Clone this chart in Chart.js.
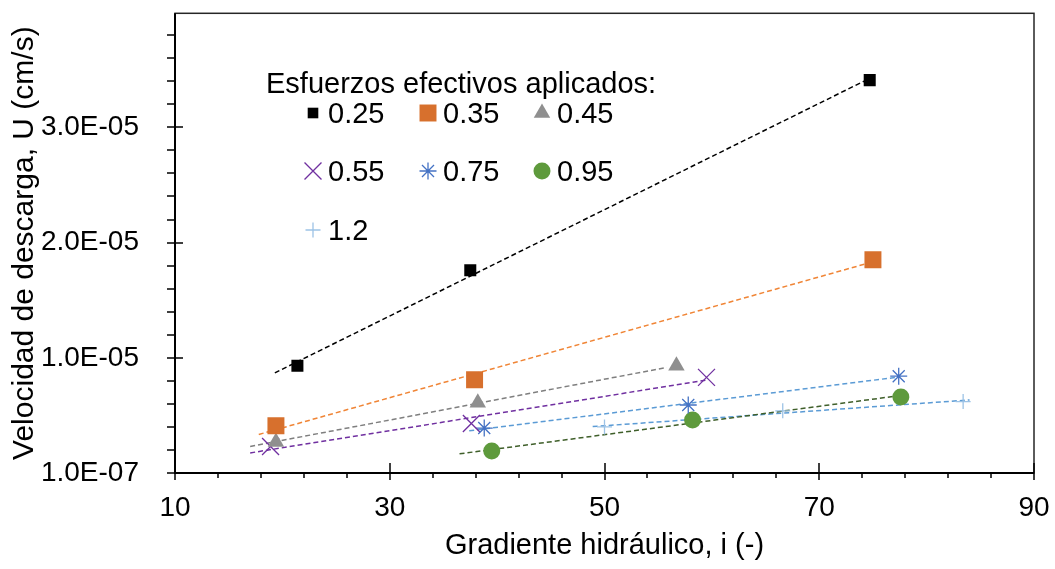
<!DOCTYPE html>
<html lang="es">
<head>
<meta charset="UTF-8">
<title>Velocidad de descarga vs gradiente hidráulico</title>
<script src="https://cdn.jsdelivr.net/npm/chart.js"></script>
<style>
  body { margin:0; background:#fff; }
  #wrap { width:1055px; height:569px; }
</style>
</head>
<body>
<div id="wrap"><canvas id="grafico" width="1055" height="569"></canvas></div>
<script>
  // esfuerzos efectivos aplicados (leyenda)
  const esfuerzos = ['0.25', '0.35', '0.45', '0.55', '0.75', '0.95', '1.2'];

  // gradiente hidráulico i (-) y velocidad de descarga U (cm/s)
  const i025 = [21.4, 37.5, 74.7], u025 = [9.4e-6, 1.77e-5, 3.42e-5];
  const i035 = [19.4, 37.9, 75.0], u035 = [4.2e-6, 8.2e-6, 1.86e-5];
  const i045 = [19.4, 38.2, 56.7], u045 = [2.8e-6, 6.2e-6, 9.4e-6];
  const i055 = [18.9, 37.6, 59.5], u055 = [2.4e-6, 4.4e-6, 8.4e-6];
  const i075 = [38.8, 57.8, 77.4], u075 = [4.0e-6, 6.0e-6, 8.5e-6];
  const i095 = [39.5, 58.2, 77.6], u095 = [2.0e-6, 4.7e-6, 6.7e-6];
  const i120 = [50.0, 66.6, 83.4], u120 = [4.1e-6, 5.5e-6, 6.3e-6];

  // tramo de cada línea de tendencia (en i)
  const tendDesde = [19.3, 17.8, 17.0, 17.0, 37.4, 36.5, 48.9];
  const tendHasta = [74.7, 75.0, 55.8, 59.4, 77.4, 77.2, 84.0];

  // marcas de los ejes
  const xTicks = [10, 30, 50, 70, 90];
  const yTicks = [1.0e-7, 1.01e-5, 2.01e-5, 3.01e-5];

  const gradientes = [i025, i035, i045, i055, i075, i095, i120];
  const velocidades = [u025, u035, u045, u055, u075, u095, u120];

  // estilos (marcador, color, color de tendencia)
  const estilos = [
    { p:'rect',     r:8.5, fill:'#000000', line:'#000000', bw:0 },
    { p:'rect',     r:12,  fill:'#D7702D', line:'#F08536', bw:0 },
    { p:'triangle', r:9.5, fill:'#8F8F8F', line:'#7F7F7F', bw:0 },
    { p:'crossRot', r:12,  fill:'#7030A0', line:'#7030A0', bw:1.3 },
    { p:'star',     r:8.5, fill:'#4472C4', line:'#5B9BD5', bw:1.3 },
    { p:'circle',   r:8.5, fill:'#5E9A3C', line:'#3F5F2A', bw:0 },
    { p:'cross',    r:7.5, fill:'#9DC3E6', line:'#5B9BD5', bw:1.3 }
  ];

  function ajuste(xs, ys, x0, x1) {
    const n = xs.length;
    const mx = xs.reduce((a, b) => a + b, 0) / n;
    const my = ys.reduce((a, b) => a + b, 0) / n;
    let sxy = 0, sxx = 0;
    for (let k = 0; k < n; k++) { sxy += (xs[k]-mx)*(ys[k]-my); sxx += (xs[k]-mx)*(xs[k]-mx); }
    const m = sxy / sxx;
    return [{ x:x0, y:my + m*(x0-mx) }, { x:x1, y:my + m*(x1-mx) }];
  }

  function fmtE(v) {
    const [m, e] = v.toExponential(1).split('e');
    const n = parseInt(e, 10);
    return m + 'E' + (n < 0 ? '-' : '+') + String(Math.abs(n)).padStart(2, '0');
  }

  const datasets = [];
  esfuerzos.forEach((lab, s) => {
    const st = estilos[s];
    datasets.push({
      label: lab + ' tendencia', type: 'scatter', showLine: true,
      data: ajuste(gradientes[s], velocidades[s], tendDesde[s], tendHasta[s]),
      borderColor: st.line, borderWidth: 1.5, borderDash: [5, 3], pointRadius: 0, order: 2
    });
  });
  esfuerzos.forEach((lab, s) => {
    const st = estilos[s];
    datasets.push({
      label: lab, type: 'scatter',
      data: gradientes[s].map((x, k) => ({ x, y: velocidades[s][k] })),
      pointStyle: st.p, pointRadius: st.r, pointHoverRadius: st.r,
      backgroundColor: st.fill, borderColor: st.fill, pointBorderWidth: st.bw, order: 1
    });
  });

  const FONT = "'Liberation Sans', Arial, sans-serif";

  // ejes: marco, marcas mayores y menores
  const marcas = {
    id: 'marcas',
    afterDraw(chart) {
      const { ctx, chartArea: a, scales: { x, y } } = chart;
      ctx.save();
      ctx.strokeStyle = '#262626';
      ctx.lineWidth = 1.5;
      ctx.strokeRect(a.left, a.top, a.right - a.left, a.bottom - a.top);
      ctx.strokeStyle = '#000';
      ctx.lineWidth = 2;
      ctx.beginPath();
      ctx.moveTo(a.left, a.top); ctx.lineTo(a.left, a.bottom); ctx.lineTo(a.right, a.bottom);
      ctx.stroke();
      ctx.lineWidth = 1.5;
      ctx.beginPath();
      for (let v = 10; v <= 90.001; v += 4) {
        const px = Math.round(x.getPixelForValue(v));
        const mayor = xTicks.includes(Math.round(v));
        ctx.moveTo(px, a.bottom - (mayor ? 10 : 0));
        ctx.lineTo(px, a.bottom + (mayor ? 7 : 5));
      }
      for (let v = 1e-7; v <= 4.0e-5; v += 2e-6) {
        const py = Math.round(y.getPixelForValue(v));
        const mayor = yTicks.some(t => Math.abs(t - v) < 1e-9);
        ctx.moveTo(a.left - 8, py);
        ctx.lineTo(a.left + (mayor ? 8 : 0), py);
      }
      ctx.stroke();
      ctx.restore();
    }
  };

  // leyenda con título, en tres columnas
  const leyenda = {
    id: 'leyenda',
    afterDraw(chart) {
      const ctx = chart.ctx;
      const colX = [313, 428, 542];
      const filaY = [123, 181, 240];
      ctx.save();
      ctx.fillStyle = '#000';
      ctx.font = '29px ' + FONT;
      ctx.textBaseline = 'alphabetic';
      ctx.fillText('Esfuerzos efectivos aplicados:', 266, 93);
      esfuerzos.forEach((lab, s) => {
        const st = estilos[s];
        const cx = colX[s % 3], by = filaY[Math.floor(s / 3)];
        ctx.fillStyle = st.fill;
        ctx.strokeStyle = st.fill;
        ctx.lineWidth = st.bw;
        Chart.helpers.drawPoint(ctx, { pointStyle: st.p, radius: st.p === 'rect' && s === 0 ? 7.5 : st.r, rotation: 0, borderWidth: st.bw }, cx, by - 10);
        ctx.fillStyle = '#000';
        ctx.fillText(lab, cx + 15, by);
      });
      ctx.restore();
    }
  };

  function sinRelleno(s) {
    s.paddingTop = 0; s.paddingBottom = 0; s.paddingLeft = 0; s.paddingRight = 0;
  }

  new Chart(document.getElementById('grafico'), {
    type: 'scatter',
    data: { datasets },
    options: {
      responsive: false,
      animation: false,
      layout: { padding: { top: 9, right: 21, left: 0, bottom: 0 } },
      plugins: { legend: { display: false }, tooltip: { enabled: false } },
      scales: {
        x: {
          type: 'linear', min: 10, max: 90,
          afterBuildTicks: s => { s.ticks = xTicks.map(v => ({ value: v })); },
          afterFit: s => { s.height = 96; sinRelleno(s); },
          grid: { display: false }, border: { display: false },
          ticks: { color: '#000', font: { family: FONT, size: 28 }, padding: 10, maxRotation: 0 },
          title: { display: true, text: 'Gradiente hidráulico, i (-)', color: '#000',
                   font: { family: FONT, size: 29 }, padding: { top: 0, bottom: 6 } }
        },
        y: {
          type: 'linear', min: 1e-7, max: 4.0e-5,
          afterBuildTicks: s => { s.ticks = yTicks.map(v => ({ value: v })); },
          afterFit: s => { s.width = 175; sinRelleno(s); },
          grid: { display: false }, border: { display: false },
          ticks: { color: '#000', font: { family: FONT, size: 28 }, padding: 28, callback: v => fmtE(v) },
          title: { display: true, text: 'Velocidad de descarga, U (cm/s)', color: '#000',
                   font: { family: FONT, size: 30 }, padding: { top: 7, bottom: 0 } }
        }
      }
    },
    plugins: [marcas, leyenda]
  });
</script>
</body>
</html>
